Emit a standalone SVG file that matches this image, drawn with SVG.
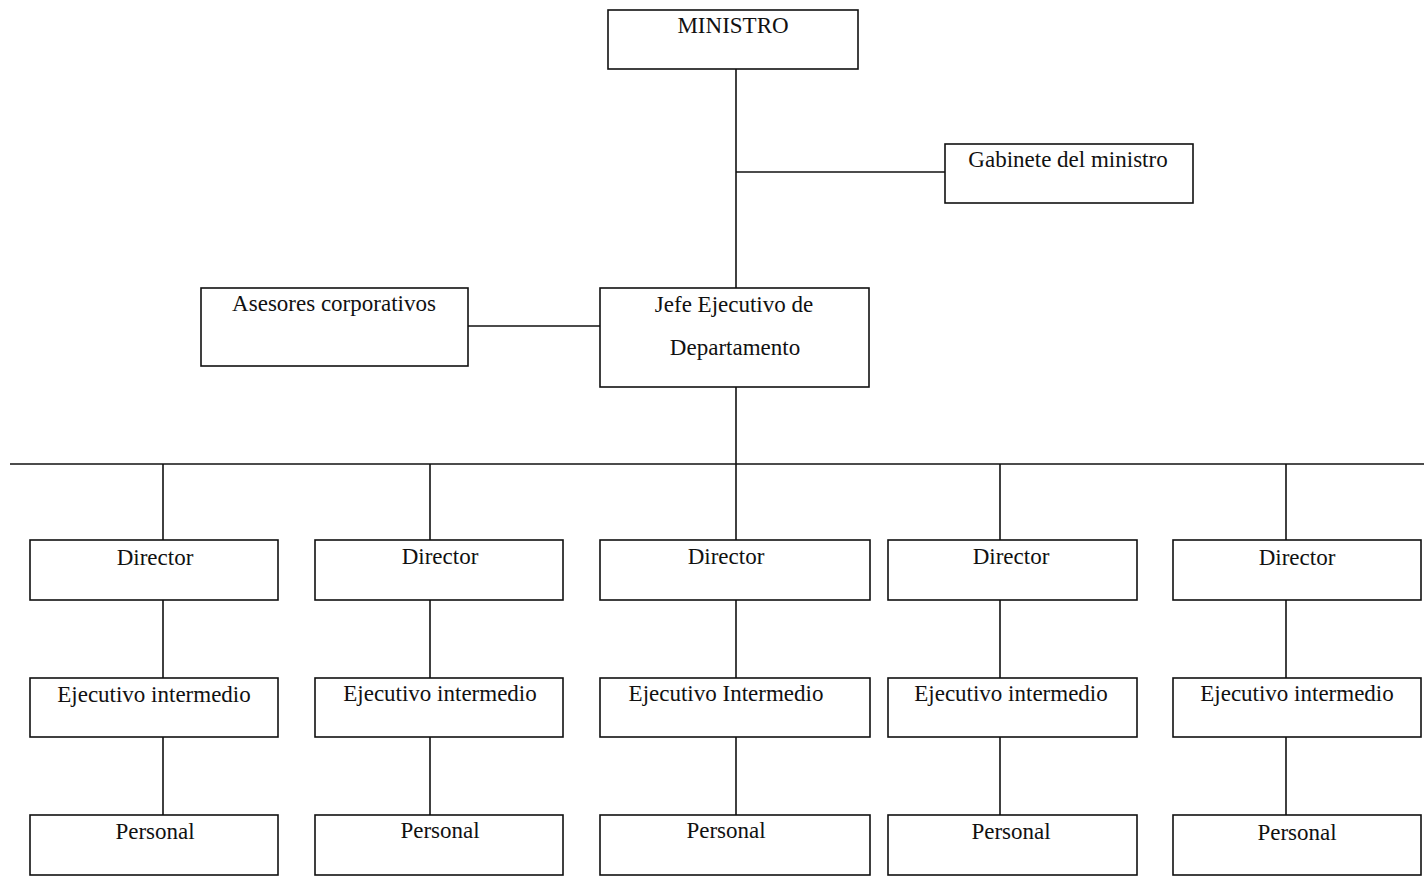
<svg xmlns="http://www.w3.org/2000/svg" width="1424" height="876" viewBox="0 0 1424 876">
<style>
.box{fill:#fff;stroke:#111;stroke-width:1.6}
.t{font-family:"Liberation Serif","Times New Roman",serif;font-size:23px;fill:#111;text-anchor:middle}
.c{stroke:#111;stroke-width:1.6;fill:none}
</style>
<rect width="1424" height="876" fill="#fff"/>
<g id="connectors">
<line class="c" x1="736" y1="69" x2="736" y2="288"/>
<line class="c" x1="736" y1="172" x2="945" y2="172"/>
<line class="c" x1="468" y1="326" x2="600" y2="326"/>
<line class="c" x1="736" y1="387" x2="736" y2="464"/>
<line class="c" x1="10" y1="464" x2="1424" y2="464"/>
<line class="c" x1="163" y1="464" x2="163" y2="540"/>
<line class="c" x1="430" y1="464" x2="430" y2="540"/>
<line class="c" x1="736" y1="464" x2="736" y2="540"/>
<line class="c" x1="1000" y1="464" x2="1000" y2="540"/>
<line class="c" x1="1286" y1="464" x2="1286" y2="540"/>
<line class="c" x1="163" y1="600" x2="163" y2="678"/>
<line class="c" x1="430" y1="600" x2="430" y2="678"/>
<line class="c" x1="736" y1="600" x2="736" y2="678"/>
<line class="c" x1="1000" y1="600" x2="1000" y2="678"/>
<line class="c" x1="1286" y1="600" x2="1286" y2="678"/>
<line class="c" x1="163" y1="737" x2="163" y2="815"/>
<line class="c" x1="430" y1="737" x2="430" y2="815"/>
<line class="c" x1="736" y1="737" x2="736" y2="815"/>
<line class="c" x1="1000" y1="737" x2="1000" y2="815"/>
<line class="c" x1="1286" y1="737" x2="1286" y2="815"/>
</g>
<g id="ministro"><rect class="box" x="608" y="10" width="250" height="59"/><text class="t" x="733" y="33">MINISTRO</text></g>
<g id="gabinete"><rect class="box" x="945" y="144" width="248" height="59"/><text class="t" x="1068" y="167">Gabinete del ministro</text></g>
<g id="asesores"><rect class="box" x="201" y="288" width="267" height="78"/><text class="t" x="334" y="311">Asesores corporativos</text></g>
<g id="jefe"><rect class="box" x="600" y="288" width="269" height="99"/><text class="t" x="734" y="312">Jefe Ejecutivo de</text><text class="t" x="735" y="355">Departamento</text></g>
<g id="director1"><rect class="box" x="30" y="540" width="248" height="60"/><text class="t" x="155" y="565">Director</text></g>
<g id="director2"><rect class="box" x="315" y="540" width="248" height="60"/><text class="t" x="440" y="564">Director</text></g>
<g id="director3"><rect class="box" x="600" y="540" width="270" height="60"/><text class="t" x="726" y="564">Director</text></g>
<g id="director4"><rect class="box" x="888" y="540" width="249" height="60"/><text class="t" x="1011" y="564">Director</text></g>
<g id="director5"><rect class="box" x="1173" y="540" width="248" height="60"/><text class="t" x="1297" y="565">Director</text></g>
<g id="ejecutivo1"><rect class="box" x="30" y="678" width="248" height="59"/><text class="t" x="154" y="702">Ejecutivo intermedio</text></g>
<g id="ejecutivo2"><rect class="box" x="315" y="678" width="248" height="59"/><text class="t" x="440" y="701">Ejecutivo intermedio</text></g>
<g id="ejecutivo3"><rect class="box" x="600" y="678" width="270" height="59"/><text class="t" x="726" y="701">Ejecutivo Intermedio</text></g>
<g id="ejecutivo4"><rect class="box" x="888" y="678" width="249" height="59"/><text class="t" x="1011" y="701">Ejecutivo intermedio</text></g>
<g id="ejecutivo5"><rect class="box" x="1173" y="678" width="248" height="59"/><text class="t" x="1297" y="701">Ejecutivo intermedio</text></g>
<g id="personal1"><rect class="box" x="30" y="815" width="248" height="60"/><text class="t" x="155" y="839">Personal</text></g>
<g id="personal2"><rect class="box" x="315" y="815" width="248" height="60"/><text class="t" x="440" y="838">Personal</text></g>
<g id="personal3"><rect class="box" x="600" y="815" width="270" height="60"/><text class="t" x="726" y="838">Personal</text></g>
<g id="personal4"><rect class="box" x="888" y="815" width="249" height="60"/><text class="t" x="1011" y="839">Personal</text></g>
<g id="personal5"><rect class="box" x="1173" y="815" width="248" height="60"/><text class="t" x="1297" y="840">Personal</text></g>
</svg>
